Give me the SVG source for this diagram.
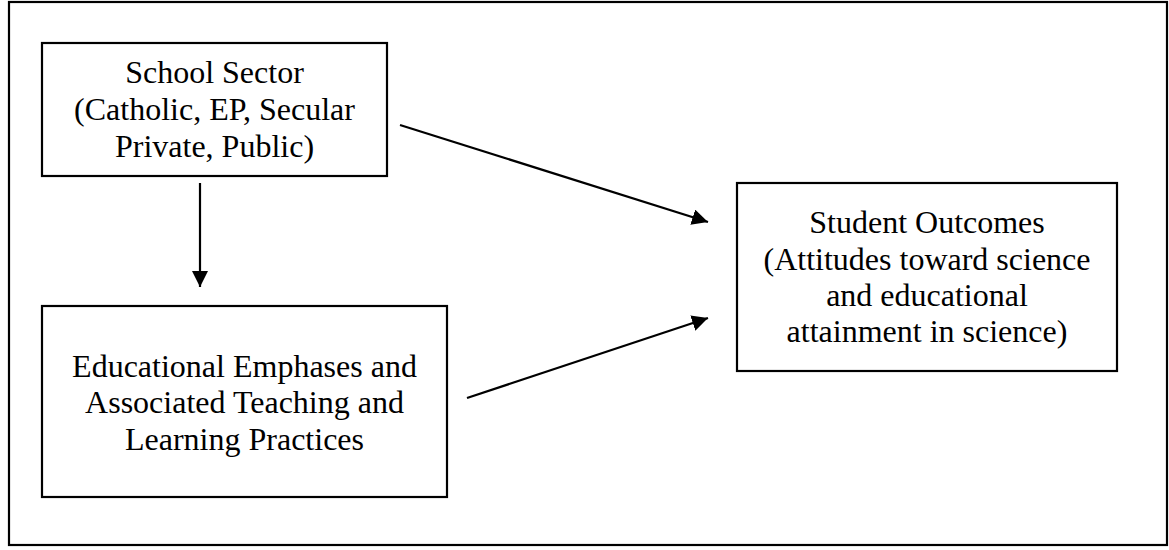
<svg xmlns="http://www.w3.org/2000/svg" width="1169" height="550" viewBox="0 0 1169 550">
<style>
.box{fill:#fff;stroke:#000;stroke-width:2.2}
.lbl{font-family:"Liberation Serif","Times New Roman",serif;font-size:32px;fill:#000;text-anchor:middle}
.con{stroke:#000;stroke-width:2.2;fill:none;marker-end:url(#ah)}
</style>
<defs>
<marker id="ah" markerWidth="18" markerHeight="18" refX="16" refY="8" orient="auto" markerUnits="userSpaceOnUse">
<path d="M0,0 L16,8 L0,16 Z" fill="#000"/>
</marker>
</defs>
<rect width="1169" height="550" fill="#fff"/>
<rect x="9" y="2" width="1158" height="543" class="box"/>
<g id="school-sector">
<rect x="42" y="43" width="345" height="133" class="box"/>
<text class="lbl" x="214.5" y="83">School Sector</text>
<text class="lbl" x="214.5" y="120">(Catholic, EP, Secular</text>
<text class="lbl" x="214.5" y="157">Private, Public)</text>
</g>
<g id="educational-emphases">
<rect x="42" y="306" width="405" height="191" class="box"/>
<text class="lbl" x="244.5" y="377">Educational Emphases and</text>
<text class="lbl" x="244.5" y="413">Associated Teaching and</text>
<text class="lbl" x="244.5" y="450">Learning Practices</text>
</g>
<g id="student-outcomes">
<rect x="737" y="183" width="380" height="188" class="box"/>
<text class="lbl" x="927" y="233">Student Outcomes</text>
<text class="lbl" x="927" y="270">(Attitudes toward science</text>
<text class="lbl" x="927" y="306">and educational</text>
<text class="lbl" x="927" y="342">attainment in science)</text>
</g>
<g id="connectors">
<line class="con" x1="200" y1="183" x2="200" y2="287"/>
<line class="con" x1="400" y1="125" x2="708" y2="222"/>
<line class="con" x1="467" y1="398" x2="708" y2="318"/>
</g>
</svg>
